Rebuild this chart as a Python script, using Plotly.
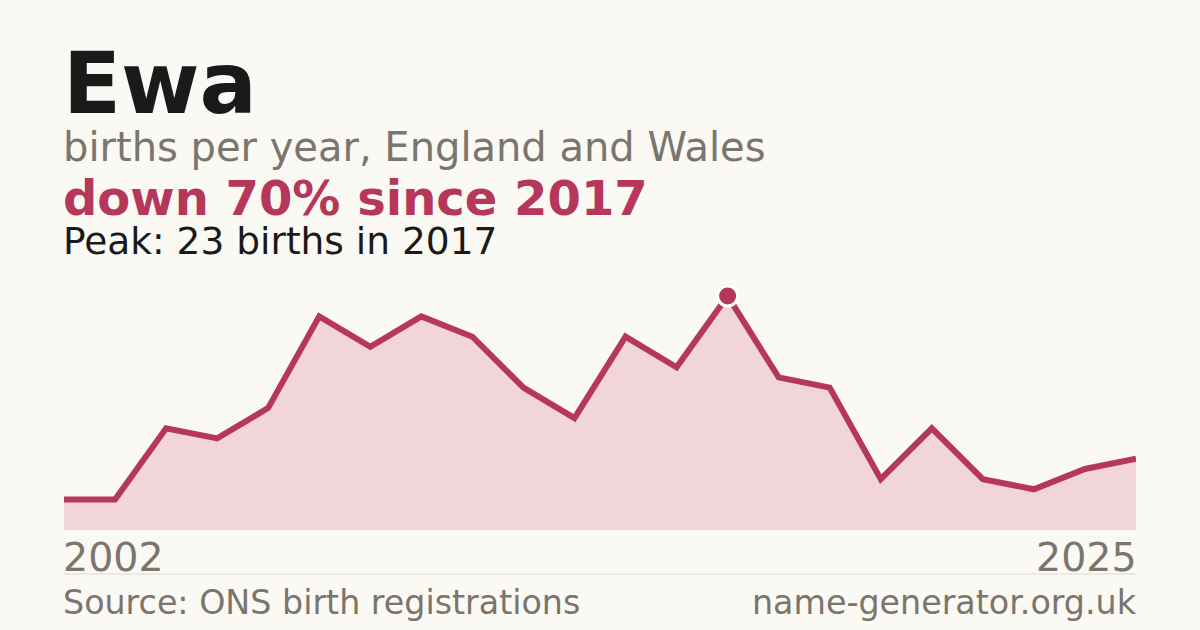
import plotly.graph_objects as go

# births per year (years with too few registrations are not published)
years = [2002, 2003, 2005, 2006, 2007, 2008, 2009, 2010, 2011, 2012, 2013,
         2014, 2015, 2017, 2018, 2019, 2020, 2021, 2022, 2023, 2024, 2025]
births = [3, 3, 10, 9, 12, 21, 18, 21, 19, 14, 11,
          19, 16, 23, 15, 14, 5, 10, 5, 4, 6, 7]

peak_year = 2017
peak_value = 23

BG = "#faf9f4"
RED = "#b5375a"
FILL = "#f2d5db"
GREY = "#7a756d"
DARK = "#1a1a1a"
FONT = "DejaVu Sans"

W, H = 1200, 630

x_cat = [str(y) for y in years]

fig = go.Figure()

fig.add_trace(go.Scatter(
    x=x_cat, y=births, mode="lines",
    line=dict(color=RED, width=6),
    fill="tozeroy", fillcolor=FILL,
    hoverinfo="skip"))

fig.add_trace(go.Scatter(
    x=[str(peak_year)], y=[peak_value], mode="markers",
    marker=dict(color=RED, size=20, line=dict(color="white", width=3)),
    hoverinfo="skip"))


def px_y(py):
    # page pixel (from top) -> paper coordinate
    return 1 - py / H


def px_x(px):
    return px / W


# annotation boxes carry ~3px of padding, so anchor a little outside the plot edges
annotations = [
    dict(text="<b>Ewa</b>", x=px_x(61), y=px_y(135), size=85, color=DARK),
    dict(text="births per year, England and Wales", x=px_x(61), y=px_y(172), size=40, color=GREY),
    dict(text="<b>down 70% since 2017</b>", x=px_x(61), y=px_y(228), size=48, color=RED),
    dict(text="Peak: 23 births in 2017", x=px_x(61), y=px_y(265), size=37.5, color=DARK),
    dict(text=str(years[0]), x=px_x(61), y=px_y(582), size=39.5, color=GREY),
    dict(text="Source: ONS birth registrations", x=px_x(61), y=px_y(624), size=33.3, color=GREY),
]
right_annotations = [
    dict(text=str(years[-1]), x=px_x(1139), y=px_y(582), size=39.5, color=GREY),
    dict(text="name-generator.org.uk", x=px_x(1139), y=px_y(624), size=33.3, color=GREY),
]

ann = []
for a in annotations:
    ann.append(dict(text=a["text"], x=a["x"], y=a["y"], xref="paper", yref="paper",
                    xanchor="left", yanchor="bottom", showarrow=False,
                    font=dict(family=FONT, size=a["size"], color=a["color"])))
for a in right_annotations:
    ann.append(dict(text=a["text"], x=a["x"], y=a["y"], xref="paper", yref="paper",
                    xanchor="right", yanchor="bottom", showarrow=False,
                    font=dict(family=FONT, size=a["size"], color=a["color"])))

fig.update_layout(
    width=W, height=H,
    margin=dict(l=0, r=0, t=0, b=0),
    paper_bgcolor=BG, plot_bgcolor=BG,
    showlegend=False,
    annotations=ann,
    shapes=[dict(type="line", xref="paper", yref="paper",
                 x0=px_x(64), x1=px_x(1136), y0=px_y(574), y1=px_y(574),
                 line=dict(color="#dcd9d2", width=1))],
)

fig.update_xaxes(domain=[px_x(64), px_x(1136)], range=[0, len(years) - 1],
                 showticklabels=False, showgrid=False, zeroline=False, fixedrange=True)
fig.update_yaxes(domain=[px_y(530), 1], range=[0, peak_value * (H - 100) / (530 - 296)],
                 showticklabels=False, showgrid=False, zeroline=False, fixedrange=True)

# drop the browser's default body margin so the card fills the window
fig.write_html("out.html", config=dict(displayModeBar=False),
               post_script="document.body.style.margin='0';"
                           "document.body.style.background='" + BG + "';")
